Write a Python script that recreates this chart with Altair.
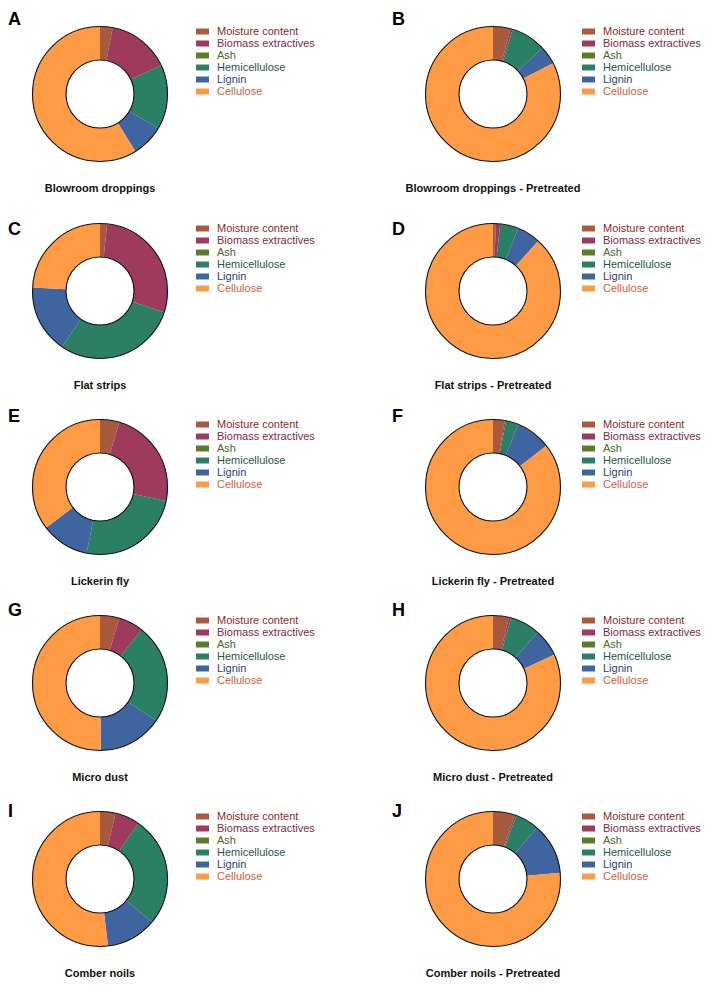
import altair as alt
import pandas as pd
import math

components = ["Moisture content", "Biomass extractives", "Ash", "Hemicellulose", "Lignin", "Cellulose"]
swatch_colors = ["#a85a3c", "#9e3a5c", "#5b7d2a", "#2a7f65", "#3f65a0", "#ff9a45"]
label_colors = ["#8b2a1e", "#7a2c45", "#4d6a25", "#1f5848", "#2c3f70", "#d2603a"]

letters = ["A", "B", "C", "D", "E", "F", "G", "H", "I", "J"]
titles = ["Blowroom droppings", "Blowroom droppings - Pretreated",
          "Flat strips", "Flat strips - Pretreated",
          "Lickerin fly", "Lickerin fly - Pretreated",
          "Micro dust", "Micro dust - Pretreated",
          "Comber noils", "Comber noils - Pretreated"]

# composition (%) in component order
vals_A = [3.0, 15.0, 0.0, 15.5, 7.7, 58.8]
vals_B = [4.2, 0.5, 0.0, 8.4, 4.4, 82.5]
vals_C = [1.7, 28.4, 0.0, 29.4, 16.3, 24.2]
vals_D = [0.7, 1.0, 0.0, 4.4, 5.6, 88.3]
vals_E = [4.6, 23.7, 0.0, 24.9, 11.5, 35.3]
vals_F = [2.8, 0.3, 0.0, 3.0, 8.4, 85.5]
vals_G = [4.6, 5.9, 0.0, 23.9, 15.4, 50.2]
vals_H = [3.8, 0.5, 0.0, 7.2, 6.6, 81.9]
vals_I = [3.7, 5.9, 0.0, 26.4, 12.1, 51.9]
vals_J = [5.2, 0.4, 0.0, 5.7, 12.2, 76.5]
all_vals = [vals_A, vals_B, vals_C, vals_D, vals_E, vals_F, vals_G, vals_H, vals_I, vals_J]

# layout
col_w = [355, 340]
row_h = [189, 196, 196, 196, 196]
row_cy = [86, 94, 94, 94, 94]
letter_off = [-69, -56, -65, -67, -62]
col_cx = [92, 130]
col_lx = [0, 29]
col_legx = [188, 219]
R_OUT, R_IN = 67.5, 34

label_expr = "".join(f"datum.label === '{c}' ? '{lc}' : " for c, lc in zip(components, label_colors)) + "'#000'"


def panel(i):
    row, col = divmod(i, 2)
    cx, cy = col_cx[col], row_cy[row]
    df = pd.DataFrame({"component": components, "value": all_vals[i], "idx": list(range(len(components)))})
    arcs = alt.Chart(df).mark_arc(outerRadius=R_OUT, innerRadius=R_IN).encode(
        theta=alt.Theta("value:Q", stack=True),
        order=alt.Order("idx:Q"),
        color=alt.Color(
            "component:N",
            scale=alt.Scale(domain=components, range=swatch_colors),
            legend=alt.Legend(
                title=None, orient="none", legendX=col_legx[col], legendY=cy - 69,
                symbolType="M-1,-0.46H1V0.46H-1Z", symbolSize=169, symbolStrokeWidth=0,
                symbolOpacity=1, labelFont="Liberation Sans", labelFontSize=11,
                labelOffset=8, rowPadding=0, labelColor=alt.ExprRef(label_expr),
            ),
        ),
        x=alt.value(cx), y=alt.value(cy),
    )
    ring = alt.Chart(alt.Data(values=[{"ring": 1}])).mark_arc(
        theta=0, theta2=2 * math.pi, outerRadius=R_OUT, innerRadius=R_IN,
        filled=False, stroke="#111111", strokeWidth=1.1,
    ).encode(x=alt.value(cx), y=alt.value(cy))
    letter = alt.Chart(alt.Data(values=[{"t": letters[i]}])).mark_text(
        align="left", baseline="alphabetic", fontSize=18, fontWeight="bold",
        font="Liberation Sans", color="black",
    ).encode(text="t:N", x=alt.value(col_lx[col]), y=alt.value(cy + letter_off[row]))
    title = alt.Chart(alt.Data(values=[{"t": titles[i]}])).mark_text(
        align="center", baseline="middle", fontSize=11, fontWeight="bold",
        font="Liberation Sans", color="#111111",
    ).encode(text="t:N", x=alt.value(cx), y=alt.value(cy + 95))
    return alt.layer(arcs, ring, letter, title).properties(width=col_w[col], height=row_h[row])


rows = []
for r in range(5):
    rows.append(
        alt.hconcat(panel(2 * r), panel(2 * r + 1), spacing=0)
        .resolve_scale(color="independent", theta="independent")
    )

chart = (
    alt.vconcat(*rows, spacing=0)
    .resolve_scale(color="independent", theta="independent")
    .configure_view(strokeWidth=0)
    .properties(padding=0, background="white")
)

chart.save("out.html", embed_options={"renderer": "svg", "actions": False})
